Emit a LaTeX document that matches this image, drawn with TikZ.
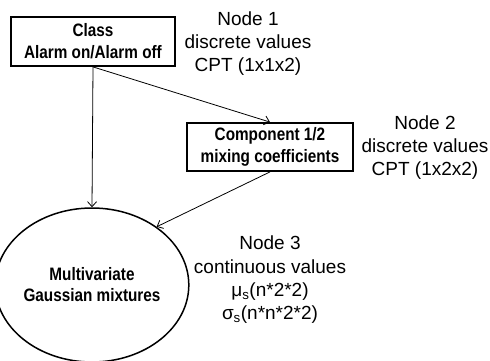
\documentclass[tikz,border=0pt]{standalone}
\usepackage{fontspec}
\usepackage{graphicx}
\setmainfont{Liberation Sans}
\newcommand\narrowline[1]{\scalebox{0.85}[1]{#1}}
\usetikzlibrary{arrows.meta,shapes.geometric}
\begin{document}
\begin{tikzpicture}[x=1pt,y=-1pt,
  boxnode/.style={draw,line width=1.8pt,inner sep=0pt,align=center,
    font=\bfseries\fontsize{18}{22}\selectfont},
  infotext/.style={inner sep=0pt,align=center,font=\fontsize{19}{23.3}\selectfont},
  conn/.style={line width=0.8pt,-{Straight Barb[length=5pt,width=9pt,line width=0.8pt]}}]
\path[fill=white] (0,0) rectangle (490,361);
\useasboundingbox (0,0) rectangle (490,361);
\node[boxnode,minimum width=164pt,minimum height=49pt] (cls) at (93,41.5)
  {\narrowline{Class}\\\narrowline{Alarm on/Alarm off}};
\node[boxnode,minimum width=166pt,minimum height=48pt] (cmp) at (270,147)
  {\narrowline{Component 1/2}\\\narrowline{mixing coefficients}};
\node[ellipse,draw,line width=1.5pt,minimum width=168pt,minimum height=154pt,inner sep=0pt,align=center,
  font=\bfseries\fontsize{18}{21}\selectfont] (gm) at (92,285)
  {\narrowline{Multivariate}\\\narrowline{Gaussian mixtures}};
\node[infotext] (t1) at (248,43.5) {Node 1\\discrete values\\CPT (1x1x2)};
\node[infotext] (t2) at (425,147.5) {Node 2\\discrete values\\CPT (1x2x2)};
\node[infotext] (t3) at (270,280) {Node 3\\continuous values\\μ\textsubscript{s}(n*2*2)\\σ\textsubscript{s}(n*n*2*2)};
\draw[conn] (cls.south) -- (gm.north);
\draw[conn] (cls.south) -- (cmp.north);
\draw[conn] (cmp.south) -- (gm.42);
\end{tikzpicture}
\end{document}
